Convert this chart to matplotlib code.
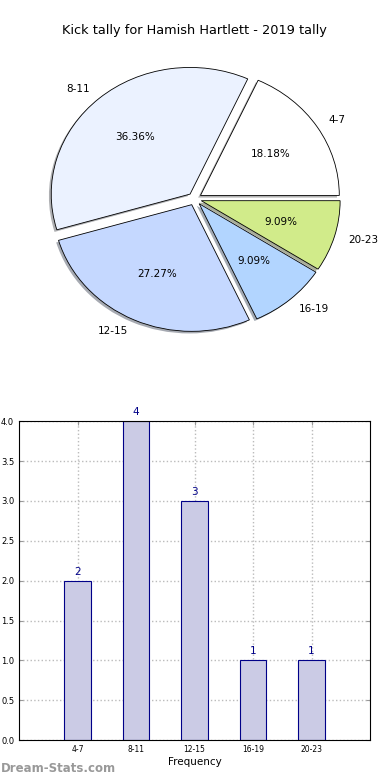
import matplotlib
matplotlib.use("Agg")
import matplotlib.pyplot as plt
import numpy as np

# kick tally data
bins = ["4-7", "8-11", "12-15", "16-19", "20-23"]
counts = [2, 4, 3, 1, 1]
pie_colors = ["#ffffff", "#ebf2ff", "#c5d8ff", "#b2d5ff", "#d1eb8a"]
yticks = [0.0, 0.5, 1.0, 1.5, 2.0, 2.5, 3.0, 3.5, 4.0]

fig = plt.figure(figsize=(3.9, 7.8), dpi=100)

# --- pie ---
ax1 = fig.add_axes([0.054, 0.542, 0.89, 0.406])
wedges, texts, autotexts = ax1.pie(
    counts, labels=bins, colors=pie_colors, autopct="%1.2f%%",
    explode=[0.05] * len(counts),
    shadow=dict(ox=-0.012, oy=-0.012, shade=0.6, linewidth=0),
    wedgeprops=dict(edgecolor="black", linewidth=0.6),
    textprops=dict(fontsize=7.5))
ax1.set_aspect("auto")
ax1.set_xlim(-1.25, 1.25)
ax1.set_ylim(-1.25, 1.25)
ax1.set_title("Kick tally for Hamish Hartlett - 2019 tally", fontsize=9.3, pad=5)

# --- bars ---
ax2 = fig.add_axes([0.049, 0.051, 0.9, 0.409])
x = np.arange(len(bins))
ax2.bar(x, counts, width=0.45, color="#cbcbe5", edgecolor="#000088",
        linewidth=0.8, zorder=2)
for xi, c in zip(x, counts):
    ax2.text(xi, c + 0.05, str(c), ha="center", va="bottom", fontsize=7.5,
             color="#000088")
ax2.set_xlim(-1, 5)
ax2.set_ylim(0, 4)
ax2.set_xticks(x)
ax2.set_xticklabels(bins, fontsize=5.5)
ax2.set_yticks(yticks)
ax2.set_yticklabels(["%.1f" % v for v in yticks], fontsize=6)
ax2.tick_params(direction="in", length=3, top=True, right=True, color="#999999")
ax2.grid(True, linestyle=":", color="#bbbbbb", linewidth=1.0, zorder=0)
ax2.set_axisbelow(True)
ax2.set_xlabel("Frequency", fontsize=7.5, labelpad=2)

fig.text(0.002, 0.006, "Dream-Stats.com", fontsize=8.5, color="#999999",
         fontweight="bold", ha="left", va="bottom")

fig.savefig("out.png", dpi=100)
